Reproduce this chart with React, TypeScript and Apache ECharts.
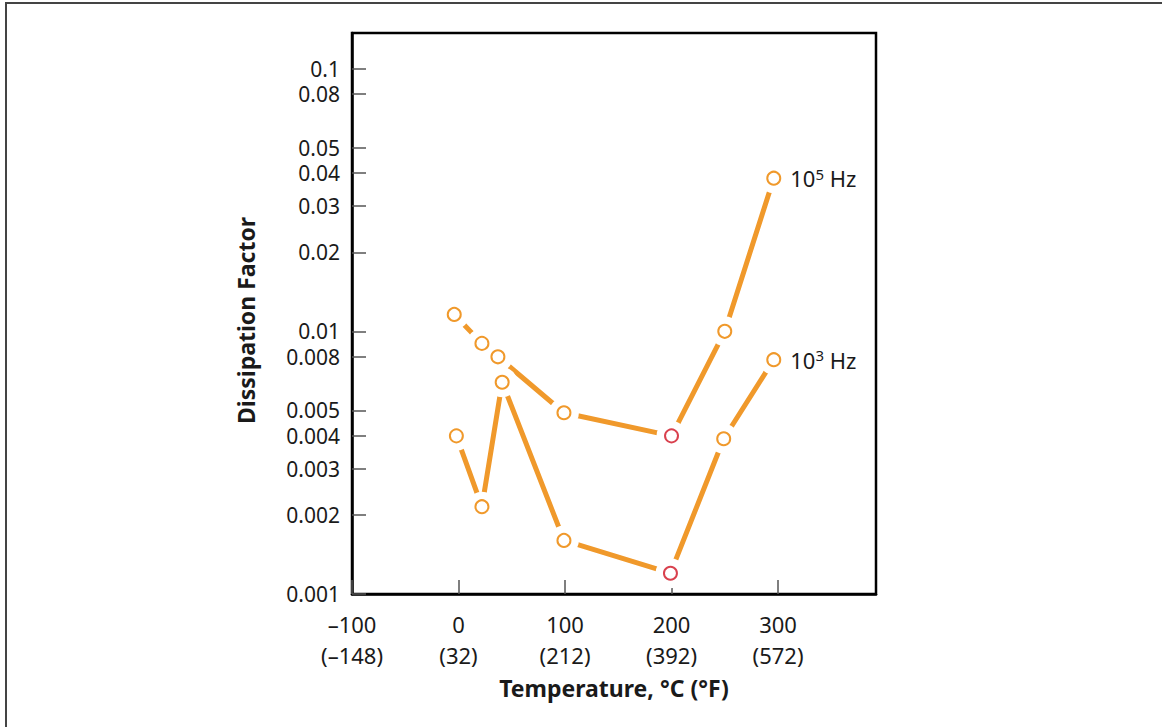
import React, { useEffect, useRef } from "react";
import * as echarts from "echarts";

// ---- data ----
const celsiusTicks = [-100, 0, 100, 200, 300];
const fahrenheitTicks = [-148, 32, 212, 392, 572];
const yTickValues = [0.001, 0.002, 0.003, 0.004, 0.005, 0.008, 0.01, 0.02, 0.03, 0.04, 0.05, 0.08, 0.1];
const yTickLabels = ["0.001", "0.002", "0.003", "0.004", "0.005", "0.008", "0.01", "0.02", "0.03", "0.04", "0.05", "0.08", "0.1"];

// 10^5 Hz
const hz5Temp = [-4, 22, 37, 99, 200, 250, 296];
const hz5Value = [0.0116, 0.009, 0.008, 0.0049, 0.004, 0.01, 0.0383];
// 10^3 Hz
const hz3Temp = [-2, 22, 41, 99, 199, 249, 296];
const hz3Value = [0.004, 0.00215, 0.0064, 0.0016, 0.0012, 0.0039, 0.0078];
// points drawn in red (index)
const redIndex = 4;

const ORANGE = "#F0992B";
const RED = "#D9414E";
const TEXT = "#1a1a1a";
const FONT = "Noto Sans";

const dash = (n: number) => (n < 0 ? "\u2013" + Math.abs(n) : String(n));

export default function App() {
  const ref = useRef<HTMLDivElement>(null);
  useEffect(() => {
    if (!ref.current) return;
    const chart = echarts.init(ref.current, undefined, { renderer: "svg" });
    const toPts = (t: number[], v: number[]) => t.map((x, i) => [x, Math.log10(v[i])]);
    const markerData = (t: number[], v: number[], sup: string) =>
      t.map((x, i) => {
        const item: any = { value: [x, Math.log10(v[i])] };
        if (i === redIndex) item.itemStyle = { color: RED };
        if (i === t.length - 1) {
          item.label = {
            show: true,
            position: "right",
            distance: 9,
            formatter: "{m|10}{s|" + sup + "}{m| Hz}",
            rich: {
              m: { fontSize: 22, fontFamily: FONT, color: TEXT, lineHeight: 28 },
              s: { fontSize: 15, fontFamily: FONT, color: TEXT, lineHeight: 16, padding: [0, 0, 9, 0] },
            },
          };
        }
        return item;
      });
    const yLogTicks = yTickValues.map((v) => Math.log10(v));
    const option: any = {
      animation: false,
      backgroundColor: "#fff",
      textStyle: { fontFamily: FONT },
      graphic: [
        { type: "line", shape: { x1: 6, y1: 2, x2: 6, y2: 727 }, style: { stroke: "#444", lineWidth: 2 } },
        { type: "line", shape: { x1: 5, y1: 3, x2: 1162, y2: 3 }, style: { stroke: "#444", lineWidth: 2 } },
      ],
      grid: {
        left: 352,
        top: 33,
        width: 524,
        height: 561,
        show: true,
        borderColor: "#000",
        borderWidth: 2.5,
        backgroundColor: "transparent",
      },
      xAxis: {
        type: "value",
        min: -100,
        max: 392,
        name: "Temperature, \u00b0C (\u00b0F)",
        nameLocation: "middle",
        nameGap: 82,
        nameTextStyle: { fontSize: 23, fontWeight: "bold", color: TEXT, fontFamily: FONT },
        axisLine: { show: true, onZero: false, lineStyle: { color: "#000", width: 2.5 } },
        axisTick: { show: true, inside: true, length: 14, customValues: celsiusTicks, lineStyle: { color: "#555", width: 1.5 } },
        axisLabel: {
          customValues: celsiusTicks,
          margin: 14,
          fontSize: 22,
          lineHeight: 31,
          color: TEXT,
          fontFamily: FONT,
          formatter: (val: number) => {
            const i = celsiusTicks.findIndex((c) => Math.abs(c - val) < 1e-6);
            if (i < 0) return "";
            return dash(celsiusTicks[i]) + "\n(" + dash(fahrenheitTicks[i]) + ")";
          },
        },
        splitLine: { show: false },
      },
      yAxis: {
        type: "value",
        min: -3,
        max: -0.864,
        name: "Dissipation Factor",
        nameLocation: "middle",
        nameRotate: 90,
        nameGap: 95,
        nameTextStyle: { fontSize: 23, fontWeight: "bold", color: TEXT, fontFamily: FONT, padding: [0, 14, 0, 0] },
        axisLine: { show: true, onZero: false, lineStyle: { color: "#000", width: 2.5 } },
        axisTick: { show: true, inside: true, length: 14, customValues: yLogTicks, lineStyle: { color: "#555", width: 1.5 } },
        axisLabel: {
          customValues: yLogTicks,
          margin: 12,
          fontSize: 21,
          lineHeight: 20,
          color: TEXT,
          fontFamily: FONT,
          formatter: (val: number) => {
            const i = yLogTicks.findIndex((c) => Math.abs(c - val) < 1e-6);
            return i < 0 ? "" : yTickLabels[i];
          },
        },
        splitLine: { show: false },
      },
      series: [
        {
          type: "line",
          name: "10^5 Hz",
          data: toPts(hz5Temp, hz5Value),
          symbol: "none",
          z: 2,
          lineStyle: { color: ORANGE, width: 5 },
          silent: true,
        },
        {
          type: "line",
          name: "10^3 Hz",
          data: toPts(hz3Temp, hz3Value),
          symbol: "none",
          z: 2,
          lineStyle: { color: ORANGE, width: 5 },
          silent: true,
        },
        {
          type: "scatter",
          data: [...toPts(hz5Temp, hz5Value), ...toPts(hz3Temp, hz3Value)],
          symbol: "circle",
          symbolSize: 30,
          itemStyle: { color: "#fff", opacity: 1 },
          z: 3,
          silent: true,
        },
        {
          type: "scatter",
          data: markerData(hz5Temp, hz5Value, "5"),
          symbol: "emptyCircle",
          symbolSize: 13,
          itemStyle: { color: ORANGE, borderWidth: 1.5, opacity: 1 },
          z: 4,
          silent: true,
        },
        {
          type: "scatter",
          data: markerData(hz3Temp, hz3Value, "3"),
          symbol: "emptyCircle",
          symbolSize: 13,
          itemStyle: { color: ORANGE, borderWidth: 1.5, opacity: 1 },
          z: 4,
          silent: true,
        },
      ],
    };
    chart.setOption(option);
    return () => chart.dispose();
  }, []);
  return (
    <div
      ref={ref}
      style={{ position: "fixed", left: 0, top: 0, width: 1162, height: 727, background: "#fff" }}
    />
  );
}
